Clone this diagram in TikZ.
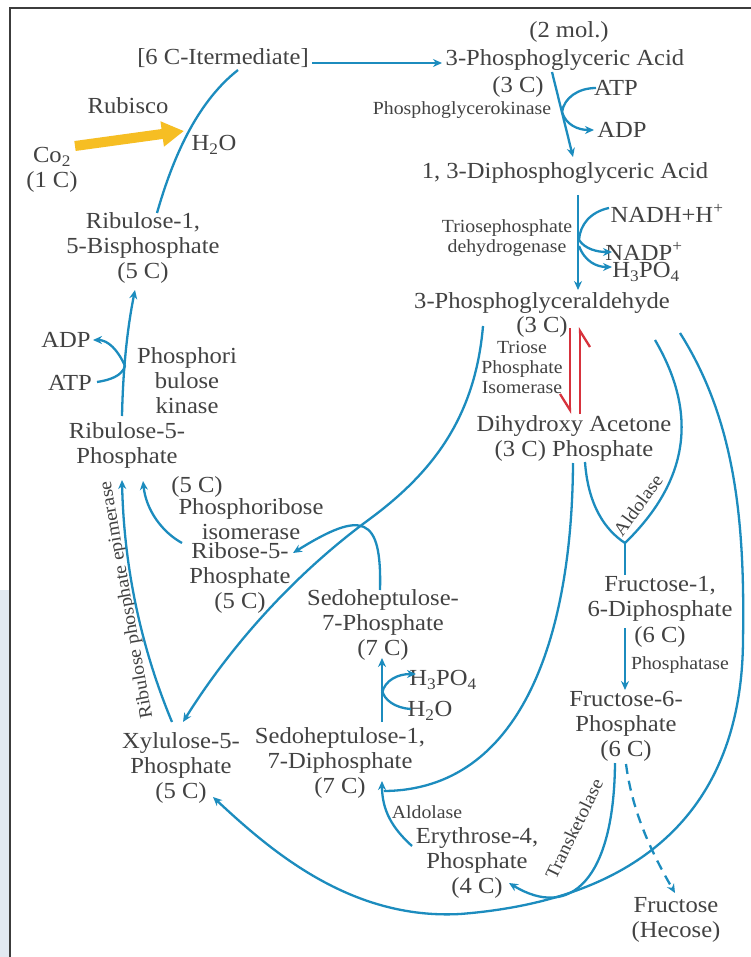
\documentclass[tikz,border=0pt]{standalone}
\usepackage{fontspec}
\setmainfont{Liberation Serif}[FakeStretch=1.07]
\usetikzlibrary{arrows.meta}
\definecolor{arr}{RGB}{28,140,190}
\definecolor{txt}{RGB}{66,66,66}
\definecolor{redarr}{RGB}{215,50,60}
\definecolor{yel}{RGB}{246,190,35}
\definecolor{bord}{RGB}{60,60,60}
\definecolor{sidebg}{RGB}{226,233,242}
\tikzset{
  lbl/.style={inner sep=0pt, align=center, text=txt, font=\fontsize{23}{25}\selectfont},
  sm/.style={inner sep=0pt, align=center, text=txt, font=\fontsize{18.5}{20}\selectfont},
  flow/.style={draw=arr, line width=2.3pt, -{Stealth[length=9pt,width=8pt]}},
  link/.style={draw=arr, line width=2.3pt},
  harp/.style={draw=redarr, line width=2.3pt, -{Straight Barb[right,length=16pt,width=20pt]}},
}
\begin{document}
\begin{tikzpicture}[x=1pt,y=-1pt]
\useasboundingbox (0,0) rectangle (751,957);
\fill[white] (0,0) rectangle (751,957);
\fill[sidebg] (0,590) rectangle (9,957);
\draw[bord, line width=2pt] (10,957) -- (10,8) -- (751,8);

% ---------- text nodes ----------
\node[lbl] (inter) at (223,58) {[6 C-Itermediate]};
\node[lbl] (mol) at (569,32) {(2 mol.)};
\node[lbl] (pga) at (565,60) {3-Phosphoglyceric Acid};
\node[lbl] (pgac) at (518,87) {(3 C)};
\node[lbl] (atpA) at (616,88) {ATP};
\node[lbl] (adpA) at (622,130) {ADP};
\node[sm] (pgk) at (462,110) {Phosphoglycerokinase};
\node[lbl] (dpga) at (565,173) {1, 3-Diphosphoglyceric Acid};
\node[lbl] (nadh) at (667,213) {NADH+H\textsuperscript{+}};
\node[lbl] (nadp) at (644,251) {NADP\textsuperscript{+}};
\node[lbl] (hpoA) at (646,272) {H\textsubscript{3}PO\textsubscript{4}};
\node[sm] (tpd) at (507,238) {Triosephosphate\\dehydrogenase};
\node[lbl] (pgald) at (542,303) {3-Phosphoglyceraldehyde};
\node[lbl] (pgaldc) at (542,327) {(3 C)};
\node[sm] (tpi) at (522,367) {Triose\\Phosphate\\Isomerase};
\node[lbl] (dhap) at (574,438) {Dihydroxy Acetone\\(3 C) Phosphate};
\node[lbl] (f16) at (660,599) {Fructose-1,\\6-Diphosphate};
\node[lbl] (f16c) at (660,637) {(6 C)};
\node[sm] (phos) at (680,665) {Phosphatase};
\node[lbl] (f6p) at (626,726) {Fructose-6-\\Phosphate\\(6 C)};
\node[lbl] (fru) at (676,920) {Fructose\\(Hecose)};
\node[lbl] (ery) at (477,863) {Erythrose-4,\\Phosphate\\(4 C)};
\node[sm, rotate=64] (tkl) at (574,829) {Transketolase};
\node[sm, rotate=54] (aldA) at (638,505) {Aldolase};
\node[sm] (aldB) at (427,812) {Aldolase};
\node[lbl] (s17) at (340,763) {Sedoheptulose-1,\\7-Diphosphate\\(7 C)};
\node[lbl] (hpoB) at (443,680) {H\textsubscript{3}PO\textsubscript{4}};
\node[lbl] (h2oB) at (430,711) {H\textsubscript{2}O};
\node[lbl] (s7p) at (383,625) {Sedoheptulose-\\7-Phosphate\\(7 C)};
\node[lbl] (r5pc) at (197,487) {(5 C)};
\node[lbl] (pri) at (251,519) {Phosphoribose\\isomerase};
\node[lbl] (r5p) at (240,578) {Ribose-5-\\Phosphate\\(5 C)};
\node[lbl] (ru5p) at (127,445) {Ribulose-5-\\Phosphate};
\node[lbl] (prk) at (187,381) {Phosphori\\bulose\\kinase};
\node[lbl] (adpB) at (66,340) {ADP};
\node[lbl] (atpB) at (70,383) {ATP};
\node[lbl] (rubp) at (143,248) {Ribulose-1,\\5-Bisphosphate\\(5 C)};
\node[lbl] (rub) at (128,106) {Rubisco};
\node[lbl] (h2oA) at (214,145) {H\textsubscript{2}O};
\node[lbl] (co2) at (52,170) {Co\textsubscript{2}\\(1 C)};
\node[lbl] (x5p) at (181,768) {Xylulose-5-\\Phosphate\\(5 C)};
\node[sm, rotate=100] (epi) at (127,600) {Ribulose phosphate epimerase};

% ---------- connector end points ----------
\coordinate (rubpT) at (157,213);
\coordinate (interB) at (238,70);
\coordinate (interE) at (312,63);
\coordinate (pgaW) at (442,63);
\coordinate (pgaS) at (552,72);
\coordinate (dpgaN) at (573,157);
\coordinate (jA) at (562,112);
\coordinate (atpAw) at (596,88);
\coordinate (adpAw) at (594,130);
\coordinate (dpgaS) at (578,195);
\coordinate (pgaldN) at (578,290);
\coordinate (nadhW) at (609,208);
\coordinate (jB) at (579,240);
\coordinate (jC) at (579,246);
\coordinate (nadpW) at (612,252);
\coordinate (hpoAw) at (612,267);
\coordinate (redLt) at (570,328);
\coordinate (redLb) at (570,414);
\coordinate (redRb) at (580,414);
\coordinate (redRt) at (580,327);
\coordinate (co2E) at (75,146);
\coordinate (h2oAw) at (184,131);
\coordinate (ru5pN) at (122,416);
\coordinate (rubpS) at (135,290);
\coordinate (jD) at (125,366);
\coordinate (adpBe) at (93,340);
\coordinate (atpBe) at (97,382);
\coordinate (r5pW) at (182,543);
\coordinate (ru5pS) at (143,481);
\coordinate (x5pN) at (172,722);
\coordinate (ru5pSw) at (122,480);
\coordinate (pgaldSW) at (483,326);
\coordinate (cross) at (367,521);
\coordinate (x5pNE) at (183,722);
\coordinate (s7pN) at (380,590);
\coordinate (r5pE) at (293,553);
\coordinate (pgaldSE) at (680,333);
\coordinate (x5pE) at (213,797);
\coordinate (pgaldS2) at (655,340);
\coordinate (fork) at (625,543);
\coordinate (dhapSE) at (585,462);
\coordinate (f16N) at (625,575);
\coordinate (dhapS) at (573,463);
\coordinate (s17E) at (384,791);
\coordinate (eryW) at (412,846);
\coordinate (s17S) at (382,781);
\coordinate (s17N) at (382,722);
\coordinate (s7pS) at (382,658);
\coordinate (jE) at (382,693);
\coordinate (hpoBw) at (416,674);
\coordinate (h2oBw) at (411,709);
\coordinate (f16S) at (625,628);
\coordinate (f6pN) at (625,690);
\coordinate (f6pS) at (615,763);
\coordinate (eryE) at (509,883);
\coordinate (f6pS2) at (626,764);
\coordinate (fruN) at (675,893);

% ---------- connectors ----------
\draw[link] (rubpT) .. controls (175,150) and (200,100) .. (interB);
\draw[flow] (interE) -- (pgaW);

\draw[flow] (pgaS) -- (dpgaN);
\draw[link] (atpAw) .. controls (578,88) and (564,98) .. (jA);
\draw[flow] (jA) .. controls (566,125) and (578,130) .. (adpAw);

\draw[flow] (dpgaS) -- (pgaldN);
\draw[link] (nadhW) .. controls (590,212) and (580,225) .. (jB);
\draw[flow] (jB) .. controls (585,249) and (597,252) .. (nadpW);
\draw[flow] (jC) .. controls (585,262) and (597,267) .. (hpoAw);

\draw[harp] (redLt) -- (redLb);
\draw[harp] (redRb) -- (redRt);

\draw[yel, line width=10pt, -{Triangle[length=22pt,width=24pt]}] (co2E) -- (h2oAw);

\draw[flow] (ru5pN) .. controls (123,370) and (127,330) .. (rubpS);
\draw[flow] (jD) .. controls (118,350) and (108,340) .. (adpBe);
\draw[link] (atpBe) .. controls (110,380) and (122,376) .. (jD);

\draw[flow] (r5pW) .. controls (162,532) and (146,510) .. (ru5pS);
\draw[flow] (x5pN) .. controls (142,650) and (124,570) .. (ru5pSw);

\draw[flow] (pgaldSW) .. controls (475,420) and (430,475) .. (cross)
  .. controls (290,578) and (228,650) .. (x5pNE);
\draw[flow] (s7pN) .. controls (382,515) and (362,510) .. (r5pE);

\draw[flow] (pgaldSE) .. controls (735,420) and (745,520) .. (743,640)
  .. controls (742,810) and (640,900) .. (460,914)
  .. controls (350,920) and (270,850) .. (x5pE);

\draw[link] (pgaldS2) .. controls (690,400) and (700,470) .. (fork);
\draw[link] (dhapSE) .. controls (588,505) and (605,530) .. (fork);
\draw[link] (fork) -- (f16N);

\draw[link] (dhapS) .. controls (572,640) and (520,790) .. (s17E);
\draw[flow] (eryW) .. controls (392,828) and (382,810) .. (s17S);

\draw[flow] (s17N) -- (s7pS);
\draw[flow] (jE) .. controls (385,680) and (398,674) .. (hpoBw);
\draw[link] (h2oBw) .. controls (395,708) and (384,700) .. (382,690);

\draw[flow] (f16S) -- (f6pN);
\draw[flow] (f6pS) .. controls (614,880) and (570,920) .. (eryE);
\draw[draw=arr, line width=2.3pt, dash pattern=on 10pt off 7pt, -{Stealth[length=9pt,width=8pt]}]
  (f6pS2) .. controls (632,810) and (650,850) .. (fruN);
\end{tikzpicture}
\end{document}
